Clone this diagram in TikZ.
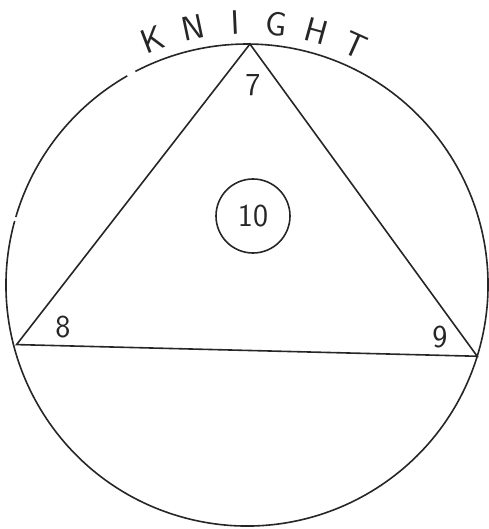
\documentclass[tikz,border=0pt]{standalone}
\usepackage{tikz}
\usetikzlibrary{calc}
\begin{document}
\begin{tikzpicture}[x=1pt,y=1pt,
  ink/.style={line width=1.6pt, draw=black!85},
  lbl/.style={font=\sffamily\fontsize{32}{32}\selectfont, text=black!85, inner sep=0pt},
  letter/.style={font=\sffamily\fontsize{34}{34}\selectfont, text=black!85, inner sep=0pt}]
\useasboundingbox (0,0) rectangle (488,-529);
\coordinate (c) at (247,-285);
% outer circle with small gaps
\draw[ink] (c) ++(119.8:241) arc[start angle=119.8, end angle=163.6, radius=241];
\draw[ink] (c) ++(164.6:241) arc[start angle=164.6, end angle=477.6, radius=241];
% triangle vertices on the circle
\coordinate (top) at ($(c)+(89.3:241)$);
\coordinate (left) at ($(c)+(194.5:238)$);
\coordinate (right) at ($(c)+(-17.2:241)$);
\draw[ink, line join=miter] (top) -- (left) -- (right) -- cycle;
% labels
\node[lbl] (n7) at (253,-85) {7};
\node[lbl] (n8) at (63,-327) {8};
\node[lbl] (n9) at (440,-337) {9};
\node[lbl, draw=black!85, line width=1.6pt, circle, minimum size=74pt] (n10) at (253,-216) {10};
% KNIGHT along the arc
\foreach \ch/\ang/\nm in {K/111/k, N/101.9/n, I/92.6/i, G/83.5/g, H/74.6/h, T/65.8/t}{
  \node[letter, rotate=\ang-90] (\nm) at ($(c)+(\ang:263)$) {\ch};
}
\end{tikzpicture}
\end{document}
